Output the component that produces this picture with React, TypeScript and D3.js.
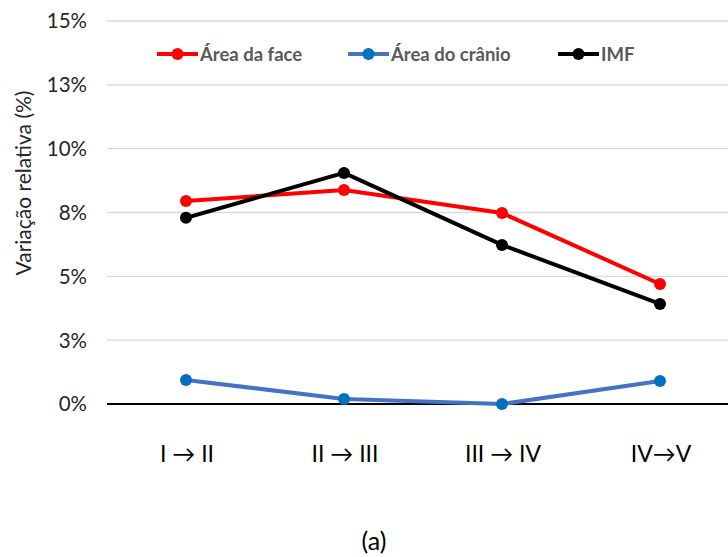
import React from 'react';
import * as d3 from 'd3';

const categories = ['I → II', 'II → III', 'III → IV', 'IV→V'];
const faceValues = [7.95, 8.38, 7.48, 4.7];
const cranioValues = [0.94, 0.2, 0.0, 0.9];
const imfValues = [7.29, 9.05, 6.23, 3.92];
const yTicks = [0, 2.5, 5, 7.5, 10, 12.5, 15];

const series = [
  { name: 'Área da face', values: faceValues, line: '#FF0000', marker: '#FF0000', lx: 157 },
  { name: 'Área do crânio', values: cranioValues, line: '#4472C4', marker: '#0070C0', lx: 348 },
  { name: 'IMF', values: imfValues, line: '#000000', marker: '#000000', lx: 558 },
];

const font = 'Lato, "Open Sans", sans-serif';

export default function App() {
  const width = 728;
  const height = 557;

  const x = d3.scaleBand<string>().domain(categories).range([107, 739]);
  const y = d3.scaleLinear().domain([0, 15]).range([404, 21]);

  const line = d3
    .line<number>()
    .x((_, i) => (x(categories[i]) as number) + x.bandwidth() / 2)
    .y((d) => y(d));

  return (
    <svg width={width} height={height} style={{ position: 'absolute', left: 0, top: 0 }}>
      <rect width={width} height={height} fill="#fff" />
      {/* grid lines */}
      {yTicks.map((t) => (
        <g key={t}>
          <line
            x1={107}
            x2={width}
            y1={y(t)}
            y2={y(t)}
            stroke={t === 0 ? '#000' : '#d9d9d9'}
            strokeWidth={t === 0 ? 2 : 1.3}
          />
          <text
            x={87}
            y={y(t)}
            dy="0.36em"
            textAnchor="end"
            fontFamily={font}
            fontSize={20.5}
            fill="#262626"
          >
            {Math.round(t)}%
          </text>
        </g>
      ))}

      <text
        transform={`translate(31,${183}) rotate(-90)`}
        textAnchor="middle"
        fontFamily={font}
        fontSize={21}
        fill="#262626"
      >
        Variação relativa (%)
      </text>

      {categories.map((c) => (
        <text
          key={c}
          x={(x(c) as number) + x.bandwidth() / 2 + 1}
          y={462}
          textAnchor="middle"
          fontFamily={font}
          fontSize={23}
          fill="#000"
        >
          {c}
        </text>
      ))}

      {/* series */}
      {series.map((s) => (
        <g key={s.name}>
          <path d={line(s.values) || ''} fill="none" stroke={s.line} strokeWidth={4} />
          {s.values.map((v, i) => (
            <circle
              key={i}
              cx={(x(categories[i]) as number) + x.bandwidth() / 2}
              cy={y(v)}
              r={6}
              fill={s.marker}
            />
          ))}
        </g>
      ))}

      {/* legend */}
      {series.map((s) => (
        <g key={'lg' + s.name}>
          <line x1={s.lx} x2={s.lx + 41} y1={54} y2={54} stroke={s.line} strokeWidth={4} />
          <circle cx={s.lx + 20.5} cy={54} r={6} fill={s.marker} />
          <text
            x={s.lx + 43}
            y={54}
            dy="0.36em"
            fontFamily={font}
            fontSize={18.5}
            fontWeight="bold"
            fill="#595959"
          >
            {s.name}
          </text>
        </g>
      ))}

      <text x={374} y={550} textAnchor="middle" fontFamily={font} fontSize={25} fill="#000">
        (a)
      </text>
    </svg>
  );
}
